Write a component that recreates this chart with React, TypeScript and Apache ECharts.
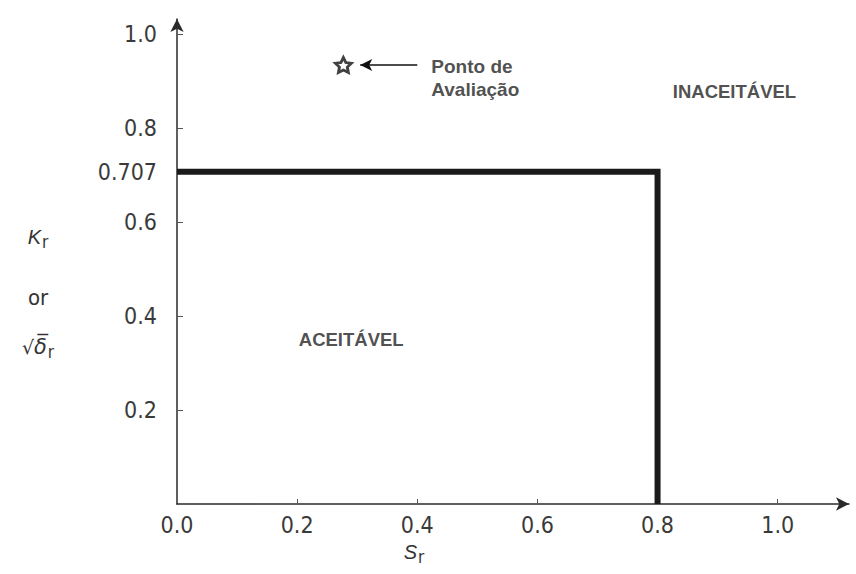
import React, { useEffect, useRef } from "react";
import * as echarts from "echarts";

// ---- data ----
const xLabelValues = [0, 0.2, 0.4, 0.6, 0.8, 1.0];
const xTickValues = [0.2, 0.4, 0.6, 0.8, 1.0];
const yLabelValues = [0.2, 0.4, 0.6, 0.707, 0.8, 1.0];
const yTickValues = [0.2, 0.4, 0.6, 0.8, 1.0];
const limitSr = 0.8;
const limitKr = 0.707;
const assessmentPoint = [0.277, 0.934];
const arrowStart = [0.4, 0.934];
const arrowEnd = [0.305, 0.934];
const annotationText = "Ponto de\nAvaliação";
const regionNames = ["INACEITÁVEL", "ACEITÁVEL"];
const regionX = [0.928, 0.29];
const regionY = [0.877, 0.349];
const xMax = 1.1187;
const yMax = 1.032;

const COND = "'DejaVu Sans Condensed', 'DejaVu Sans', sans-serif";
const SANS = "'Liberation Sans', Arial, sans-serif";

const starPath =
  "path://M0,-10L2.9,-4L9.51,-3.09L4.7,1.5L5.88,8.09L0,5L-5.88,8.09L-4.7,1.5L-9.51,-3.09L-2.9,-4Z";

export default function App() {
  const ref = useRef<HTMLDivElement>(null);
  useEffect(() => {
    document.body.style.margin = "0";
    const chart = echarts.init(ref.current!, null, { renderer: "svg" });
    const boundary = [
      [0, limitKr],
      [limitSr, limitKr],
      [limitSr, 0],
    ];
    const axisCommon = {
      type: "value" as const,
      min: 0,
      splitLine: { show: false },
      axisLine: {
        show: true,
        symbol: ["none", "arrow"],
        symbolSize: [10, 13],
        lineStyle: { color: "#2a2a2a", width: 1.5 },
      },
    };
    chart.setOption({
      animation: false,
      backgroundColor: "#ffffff",
      grid: {
        left: 177,
        right: 7,
        top: 19,
        bottom: 70,
        containLabel: false,
        outerBoundsMode: "none",
      },
      xAxis: {
        ...axisCommon,
        max: xMax,
        axisTick: {
          show: true,
          inside: true,
          length: 5,
          customValues: xTickValues,
          lineStyle: { color: "#555", width: 1 },
        },
        axisLabel: {
          customValues: xLabelValues,
          formatter: (v: number) => v.toFixed(1),
          fontFamily: COND,
          fontSize: 23,
          color: "#3a3a3a",
          margin: 9,
        },
      },
      yAxis: {
        ...axisCommon,
        max: yMax,
        axisTick: {
          show: true,
          inside: true,
          length: 6,
          customValues: yTickValues,
          lineStyle: { color: "#555", width: 1 },
        },
        axisLabel: {
          customValues: yLabelValues,
          formatter: (v: number) => (Math.abs(v - 0.707) < 1e-6 ? "0.707" : v.toFixed(1)),
          fontFamily: COND,
          fontSize: 23,
          color: "#3a3a3a",
          margin: 20,
        },
      },
      series: [
        {
          type: "line",
          data: boundary,
          symbol: "none",
          z: 3,
          lineStyle: { color: "#1a1a1a", width: 6, join: "miter", cap: "butt" },
        },
        {
          type: "scatter",
          data: [assessmentPoint],
          symbol: starPath,
          symbolSize: [16, 15],
          z: 4,
          itemStyle: { color: "#ffffff", borderColor: "#111", borderWidth: 2.8 },
          markLine: {
            silent: true,
            animation: false,
            symbol: ["none", "arrow"],
            symbolSize: [9, 12],
            label: { show: false },
            lineStyle: { color: "#111", width: 1.5, type: "solid" },
            data: [[{ coord: arrowStart }, { coord: arrowEnd }]],
          },
        },
        {
          type: "scatter",
          data: [arrowStart],
          symbolSize: 0,
          label: {
            show: true,
            position: "right",
            distance: 14,
            formatter: annotationText,
            fontFamily: SANS,
            fontWeight: "bold",
            fontSize: 19,
            lineHeight: 23,
            color: "#222",
            align: "left",
            offset: [0, 13],
          },
        },
        {
          type: "scatter",
          data: regionNames.map((n, i) => ({ name: n, value: [regionX[i], regionY[i]] })),
          symbolSize: 0,
          label: {
            show: true,
            position: "inside",
            formatter: "{b}",
            fontFamily: SANS,
            fontWeight: "bold",
            fontSize: 18.5,
            color: "#222",
          },
        },
      ],
      graphic: [
        {
          type: "text",
          x: 38,
          y: 237,
          style: {
            text: "{k|K}{s|r}",
            align: "center",
            verticalAlign: "middle",
            rich: {
              k: { fontFamily: SANS, fontStyle: "italic", fontSize: 20, fill: "#333" },
              s: { fontFamily: COND, fontSize: 17, fill: "#333", padding: [10, 0, 0, 1] },
            },
          },
        },
        {
          type: "text",
          x: 38,
          y: 297,
          style: {
            text: "or",
            align: "center",
            verticalAlign: "middle",
            fontFamily: COND,
            fontSize: 22,
            fill: "#333",
          },
        },
        {
          type: "text",
          x: 38,
          y: 347,
          style: {
            text: "{q|√}{d|δ\u0305}{s|r}",
            align: "center",
            verticalAlign: "middle",
            rich: {
              q: { fontFamily: "'DejaVu Sans', sans-serif", fontSize: 19, fill: "#333" },
              d: { fontFamily: "'DejaVu Sans', sans-serif", fontStyle: "italic", fontSize: 21, fill: "#333" },
              s: { fontFamily: COND, fontSize: 17, fill: "#333", padding: [10, 0, 0, 1] },
            },
          },
        },
        {
          type: "text",
          x: 414,
          y: 552,
          style: {
            text: "{k|S}{s|r}",
            align: "center",
            verticalAlign: "middle",
            rich: {
              k: { fontFamily: SANS, fontStyle: "italic", fontSize: 20, fill: "#333" },
              s: { fontFamily: COND, fontSize: 17, fill: "#333", padding: [10, 0, 0, 1] },
            },
          },
        },
      ],
    });
    return () => chart.dispose();
  }, []);
  return (
    <div
      ref={ref}
      style={{ position: "fixed", left: 0, top: 0, width: 856, height: 574 }}
    />
  );
}
